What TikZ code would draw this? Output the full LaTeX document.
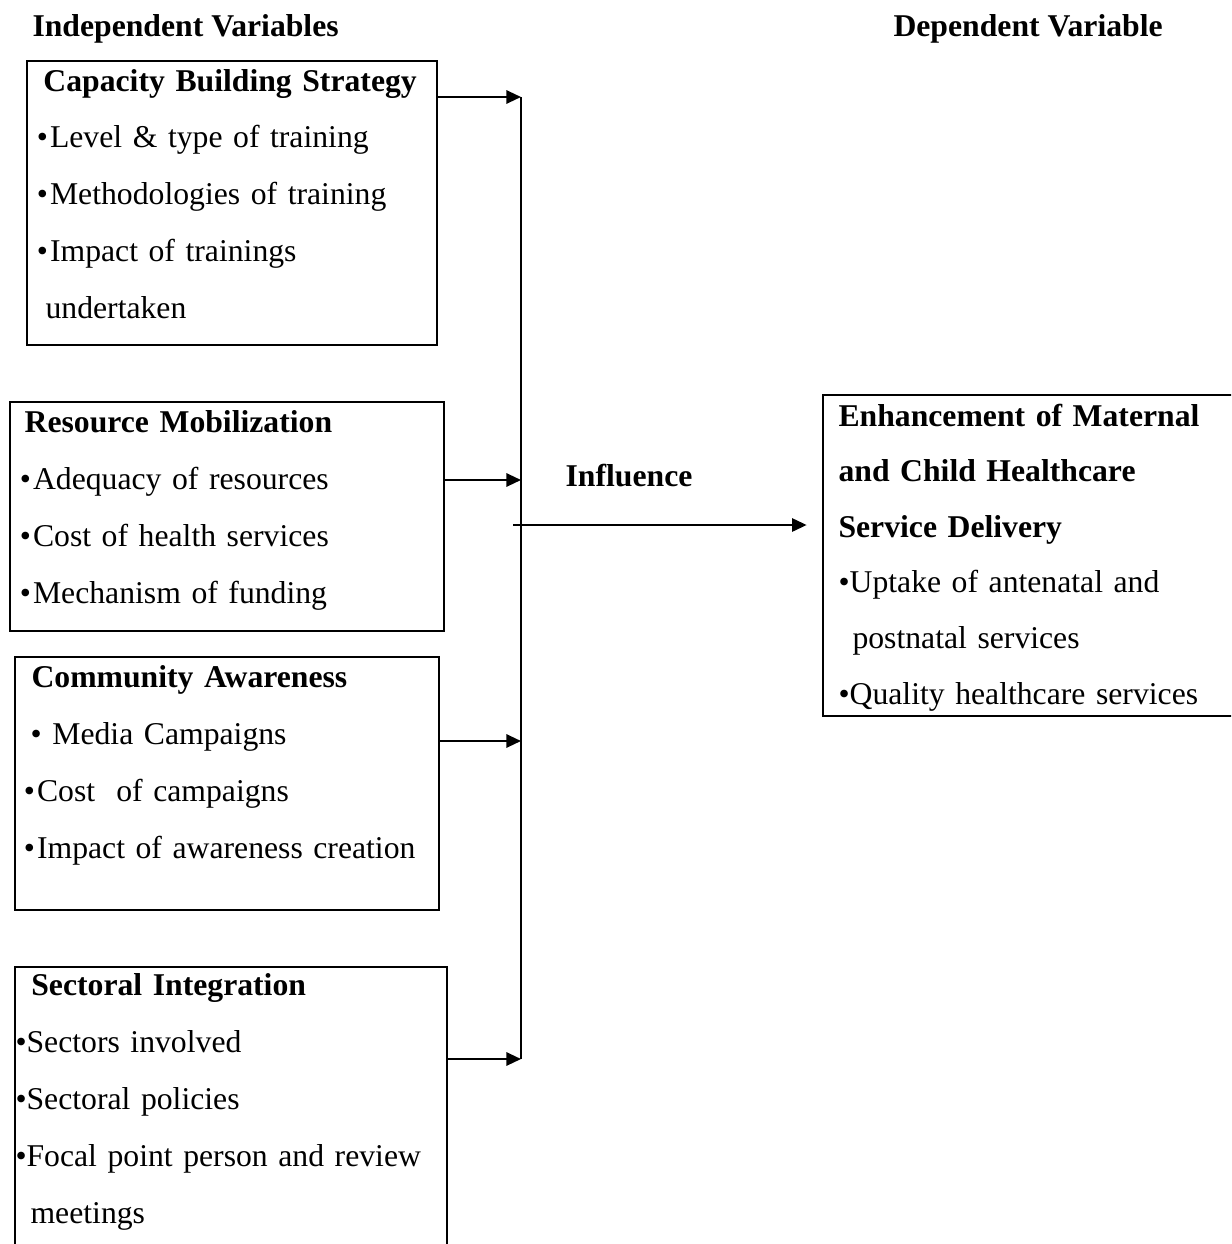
\documentclass[tikz,border=0pt]{standalone}
\usepackage{fontspec}
\setmainfont{Liberation Serif}
\usetikzlibrary{arrows.meta,positioning,fit}
\newcommand{\bul}{\hspace*{2.4pt}\makebox[5pt][l]{\textbullet}}

\begin{document}
\begin{tikzpicture}[x=0.3786pt,y=-0.3786pt,
  box/.style={draw,line width=1pt,inner sep=0pt},
  txt/.style={anchor=base west,inner sep=0pt,align=left,text width=175pt,font=\fontsize{12}{21.58}\selectfont},
  deptxt/.style={txt,font=\fontsize{12}{21.05}\selectfont},
  hd/.style={anchor=base west,inner sep=0pt,font=\fontsize{12}{14}\selectfont\bfseries},
  arr/.style={line width=0.8pt,-{Triangle[length=5.5pt,width=5pt]}}]
  \clip (0,0) rectangle (1231,1244);
  % Headers
  \node[hd] (indep) at (32,36) {Independent Variables};
  \node[hd] (dep) at (893,36) {Dependent Variable};
  % Boxes
  \node[box,fit={(27,61) (437,345)}] (capbox) {};
  \node[box,fit={(10,402) (444,631)}] (resbox) {};
  \node[box,fit={(15,657) (439,910)}] (combox) {};
  \node[box,fit={(15,967) (447,1280)}] (secbox) {};
  \node[box,fit={(823,395) (1240,716)}] (depbox) {};
  % Box texts
  \node[txt] (captxt) at (30,91) {\hspace*{4.9pt}\textbf{Capacity Building Strategy}\\
    \bul Level \& type of training\\
    \bul Methodologies of training\\
    \bul Impact of trainings\\
    \hspace*{5.7pt}undertaken};
  \node[txt] (restxt) at (13,432) {\hspace*{4.2pt}\textbf{Resource Mobilization}\\
    \bul Adequacy of resources\\
    \bul Cost of health services\\
    \bul Mechanism of funding};
  \node[txt] (comtxt) at (17,687) {\hspace*{5.3pt}\textbf{Community Awareness}\\
    \hspace*{5pt}\textbullet\ Media Campaigns\\
    \bul Cost\ \ of campaigns\\
    \bul Impact of awareness creation};
  \node[txt] (sectxt) at (15,995) {\hspace*{6pt}\textbf{Sectoral Integration}\\
    \textbullet Sectors involved\\
    \textbullet Sectoral policies\\
    \textbullet Focal point person and review\\
    \hspace*{5.7pt}meetings};
  \node[deptxt] (deptext) at (838,426) {\textbf{Enhancement of Maternal}\\
    \textbf{and Child Healthcare}\\
    \textbf{Service Delivery}\\
    \textbullet Uptake of antenatal and\\
    \hspace*{5.3pt}postnatal services\\
    \textbullet Quality healthcare services};
  % Connectors
  \coordinate (bustop) at (521,97);
  \coordinate (resin) at (521,480);
  \coordinate (comin) at (521,741);
  \coordinate (busbot) at (521,1059);
  \coordinate (infout) at (513,525);
  \draw[line width=0.8pt] (bustop) -- (busbot);
  \draw[arr] (capbox.east |- bustop) -- (bustop);
  \draw[arr] (resbox.east |- resin) -- (resin);
  \draw[arr] (combox.east |- comin) -- (comin);
  \draw[arr] (secbox.east |- busbot) -- (busbot);
  \draw[arr,shorten >=5.7pt] (infout) -- (depbox.west |- infout);
  \node[hd,anchor=base] (infl) at (629,486) {Influence};
\end{tikzpicture}
\end{document}
